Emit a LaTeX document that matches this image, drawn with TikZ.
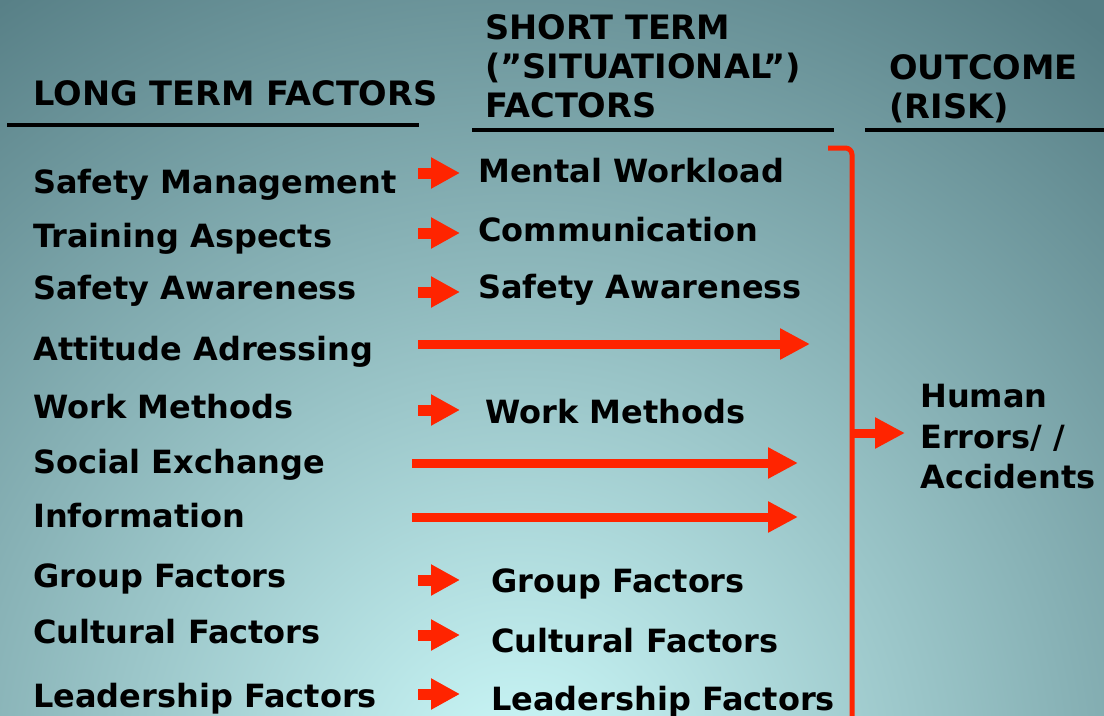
\documentclass[tikz,border=0pt]{standalone}
\usepackage{fontspec}
\setmainfont{DejaVu Sans}
\usepackage{tikz}
\usetikzlibrary{arrows.meta, positioning, calc}
\usepackage{xcolor}

\definecolor{bgdark}{RGB}{86,126,133}
\definecolor{bglight}{RGB}{205,250,250}
\definecolor{arrowred}{RGB}{255,36,0}

\tikzset{
  factor/.style={anchor=base west, inner sep=0pt, font=\bfseries\fontsize{24}{30.4}\selectfont},
  heading/.style={anchor=base west, inner sep=0pt, align=left, font=\bfseries\fontsize{25.2}{29}\selectfont},
  rule/.style={line width=3pt},
  shortarrow/.style={arrowred, line width=8.25pt, -{Triangle[length=21.75pt, width=22pt]}},
  longarrow/.style={arrowred, line width=6.75pt, -{Triangle[length=22.5pt, width=22pt]}},
  bracket/.style={arrowred, line width=3.75pt, rounded corners=5pt},
}

\begin{document}
\begin{tikzpicture}[x=0.75pt, y=-0.75pt]
  \useasboundingbox (0,0) rectangle (1104,715);
  % background
  \begin{scope}
    \clip (0,0) rectangle (1104,715);
    \fill[bgdark] (0,0) rectangle (1104,715);
    \shade[inner color=bglight, outer color=bgdark] (520,780) circle (950);
  \end{scope}

  % headings (base = last line)
  \node[heading] (lthead) at (33,105) {LONG TERM FACTORS};
  \node[heading] (sthead) at (485,117) {SHORT TERM\\(”SITUATIONAL”)\\FACTORS};
  \node[heading] (outhead) at (889,118) {OUTCOME\\(RISK)};
  \draw[rule] (7,125) -- (419,125);
  \draw[rule] (472,130) -- (834,130);
  \draw[rule] (865,130) -- (1104,130);

  % long term factors
  \node[factor] (lt1) at (33,193) {Safety Management};
  \node[factor] (lt2) at (33,247) {Training Aspects};
  \node[factor] (lt3) at (33,299) {Safety Awareness};
  \node[factor] (lt4) at (33,360) {Attitude Adressing};
  \node[factor] (lt5) at (33,418) {Work Methods};
  \node[factor] (lt6) at (33,473) {Social Exchange};
  \node[factor] (lt7) at (33,527) {Information};
  \node[factor] (lt8) at (33,587) {Group Factors};
  \node[factor] (lt9) at (33,643) {Cultural Factors};
  \node[factor] (lt10) at (33,707) {Leadership Factors};

  % short term factors
  \node[factor] (st1) at (478,182) {Mental Workload};
  \node[factor] (st2) at (478,241) {Communication};
  \node[factor] (st3) at (478,298) {Safety Awareness};
  \node[factor] (st5) at (485,423) {Work Methods};
  \node[factor] (st8) at (491,592) {Group Factors};
  \node[factor] (st9) at (491,652) {Cultural Factors};
  \node[factor] (st10) at (491,710) {Leadership Factors};

  % outcome
  \node[factor, anchor=west, align=left] (outcome) at (920,437) {Human\\Errors/ /\\Accidents};

  % arrow ends
  \coordinate (a1) at (418,173);  \coordinate (b1) at (460,173);
  \coordinate (a2) at (418,233);  \coordinate (b2) at (460,233);
  \coordinate (a3) at (418,292);  \coordinate (b3) at (460,292);
  \coordinate (a4) at (418,344);  \coordinate (b4) at (810,344);
  \coordinate (a5) at (418,410);  \coordinate (b5) at (460,410);
  \coordinate (a6) at (412,463);  \coordinate (b6) at (798,463);
  \coordinate (a7) at (412,517);  \coordinate (b7) at (798,517);
  \coordinate (a8) at (418,580);  \coordinate (b8) at (460,580);
  \coordinate (a9) at (418,635);  \coordinate (b9) at (460,635);
  \coordinate (a10) at (418,694); \coordinate (b10) at (460,694);
  \coordinate (brtop) at (828,148);
  \coordinate (brbot) at (852,720);
  \coordinate (brmid) at (852,433);

  \draw[shortarrow] (a1) -- (b1);
  \draw[shortarrow] (a2) -- (b2);
  \draw[shortarrow] (a3) -- (b3);
  \draw[longarrow] (a4) -- (b4);
  \draw[shortarrow] (a5) -- (b5);
  \draw[longarrow] (a6) -- (b6);
  \draw[longarrow] (a7) -- (b7);
  \draw[shortarrow] (a8) -- (b8);
  \draw[shortarrow] (a9) -- (b9);
  \draw[shortarrow] (a10) -- (b10);

  % bracket into outcome
  \draw[bracket] (brtop) -| (brbot);
  \draw[longarrow, shorten >=11.25pt] (brmid) -- (brmid -| outcome.west);
\end{tikzpicture}
\end{document}
